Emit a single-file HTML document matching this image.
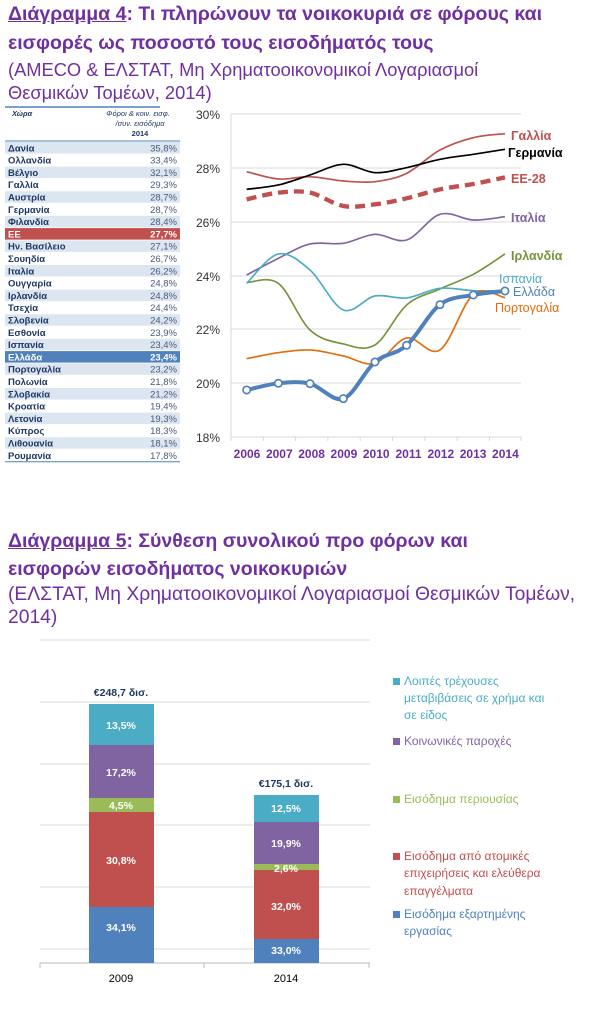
<!DOCTYPE html>
<html><head><meta charset="utf-8">
<style>
body{margin:0;width:602px;height:1018px;background:#fff;position:relative;overflow:hidden;font-family:"Liberation Sans","DejaVu Sans",sans-serif}
.t{position:absolute;left:8px;color:#7030a0;white-space:nowrap}
.b{font-weight:bold;font-size:19.5px}
.n{font-size:18px}
.u{text-decoration:underline}
</style></head><body>
<div class="t b" style="top:3px"><span class="u">Διάγραμμα 4</span>: Τι πληρώνουν τα νοικοκυριά σε φόρους και</div>
<div class="t b" style="top:32px">εισφορές ως ποσοστό τους εισοδήματός τους</div>
<div class="t n" style="top:59px;font-size:18.3px">(AMECO &amp; ΕΛΣΤΑΤ, Μη Χρηματοοικονομικοί Λογαριασμοί</div>
<div class="t n" style="top:82px;font-size:18.3px">Θεσμικών Τομέων, 2014)</div>

<div class="t b" style="top:530px"><span class="u">Διάγραμμα 5</span>: Σύνθεση συνολικού προ φόρων και</div>
<div class="t b" style="top:558px">εισφορών εισοδήματος νοικοκυριών</div>
<div class="t n" style="top:584px;font-size:19.3px">(ΕΛΣΤΑΤ, Μη Χρηματοοικονομικοί Λογαριασμοί Θεσμικών Τομέων,</div>
<div class="t n" style="top:607px;font-size:19.3px">2014)</div>

<svg width="602" height="1018" style="position:absolute;left:0;top:0" font-family="Liberation Sans, sans-serif">
<line x1="5" y1="107" x2="160" y2="107" stroke="#4f81bd" stroke-width="1.5"/>
<g font-size="7.5" fill="#1f3864" font-style="italic">
<text x="12" y="116" font-weight="bold">Χώρα</text>
<text x="138" y="116" text-anchor="middle">Φόροι &amp; κοιν. εισφ.</text>
<text x="140" y="126" text-anchor="middle">/συν. εισόδημα</text>
<text x="140" y="136" text-anchor="middle" font-style="normal" font-weight="bold">2014</text>
</g>
<line x1="5" y1="141" x2="180" y2="141" stroke="#4f81bd" stroke-width="1"/>
<g id="tbl" font-size="9.5"></g>
<g stroke="#d9d9d9" stroke-width="1">
<line x1="231" y1="114" x2="521" y2="114"/><line x1="231" y1="168" x2="521" y2="168"/><line x1="231" y1="222" x2="521" y2="222"/><line x1="231" y1="276" x2="521" y2="276"/><line x1="231" y1="329" x2="521" y2="329"/><line x1="231" y1="383" x2="521" y2="383"/><line x1="231" y1="437" x2="521" y2="437"/>
<line x1="231" y1="114" x2="231" y2="437"/>
</g>
<g id="ticks" stroke="#d9d9d9"></g>
<g font-size="12" fill="#333" text-anchor="end">
<text x="220" y="119">30%</text><text x="220" y="173">28%</text><text x="220" y="227">26%</text><text x="220" y="281">24%</text><text x="220" y="334">22%</text><text x="220" y="388">20%</text><text x="220" y="442">18%</text>
</g>
<g id="years" font-size="12" font-weight="bold" fill="#7030a0" text-anchor="middle"></g>
<g transform="translate(210,100) scale(0.3333)" fill="none" id="lines"></g>
<g font-size="12.5" font-weight="bold">
<text x="511" y="140" fill="#c0504d">Γαλλία</text>
<text x="508" y="157" fill="#000">Γερμανία</text>
<text x="511" y="183" fill="#c0504d">ΕΕ-28</text>
<text x="511" y="222" fill="#8064a2">Ιταλία</text>
<text x="511" y="260" fill="#77933c">Ιρλανδία</text>
<text x="499" y="283" fill="#4bacc6" font-weight="normal">Ισπανία</text>
<text x="513" y="296" fill="#4f81bd" font-weight="normal">Ελλάδα</text>
<text x="495" y="312" fill="#e46c0a" font-weight="normal">Πορτογαλία</text>
</g>
<g stroke="#d9d9d9" stroke-width="1">
<line x1="40" y1="640" x2="370" y2="640"/>
<line x1="40" y1="702" x2="370" y2="702"/><line x1="40" y1="764" x2="370" y2="764"/><line x1="40" y1="825" x2="370" y2="825"/><line x1="40" y1="887" x2="370" y2="887"/><line x1="40" y1="949" x2="370" y2="949"/>
<line x1="40" y1="963" x2="370" y2="963" stroke="#bbb"/>
<line x1="40" y1="963" x2="40" y2="968" stroke="#bbb"/><line x1="204" y1="963" x2="204" y2="968" stroke="#bbb"/><line x1="369" y1="963" x2="369" y2="968" stroke="#bbb"/>
</g>
<rect x="89" y="704" width="65" height="41" fill="#4bacc6"/>
<rect x="89" y="745" width="65" height="53" fill="#8064a2"/>
<rect x="89" y="798" width="65" height="14" fill="#9bbb59"/>
<rect x="89" y="812" width="65" height="95" fill="#c0504d"/>
<rect x="89" y="907" width="65" height="56" fill="#4f81bd"/>
<rect x="254" y="795" width="65" height="27" fill="#4bacc6"/>
<rect x="254" y="822" width="65" height="42" fill="#8064a2"/>
<rect x="254" y="864" width="65" height="6" fill="#9bbb59"/>
<rect x="254" y="870" width="65" height="69" fill="#c0504d"/>
<rect x="254" y="939" width="65" height="24" fill="#4f81bd"/>
<g font-size="10.5" font-weight="bold" fill="#fff" text-anchor="middle">
<text x="121" y="729">13,5%</text><text x="121" y="776">17,2%</text><text x="121" y="809">4,5%</text><text x="121" y="864">30,8%</text><text x="121" y="931">34,1%</text>
<text x="286" y="812">12,5%</text><text x="286" y="847">19,9%</text><text x="286" y="872">2,6%</text><text x="286" y="910">32,0%</text><text x="286" y="954">33,0%</text>
</g>
<g font-size="10.5" font-weight="bold" fill="#1f3864" text-anchor="middle"><text x="121" y="696">€248,7 δισ.</text><text x="286" y="787">€175,1 δισ.</text></g>
<g font-size="11" fill="#000" text-anchor="middle"><text x="121" y="982">2009</text><text x="286" y="982">2014</text></g>
<g font-size="12">
<rect x="393" y="678" width="7" height="7" fill="#4bacc6"/>
<text fill="#4bacc6"><tspan x="404" y="685">Λοιπές τρέχουσες</tspan><tspan x="404" y="702">μεταβιβάσεις σε χρήμα και</tspan><tspan x="404" y="719">σε είδος</tspan></text>
<rect x="393" y="738" width="7" height="7" fill="#8064a2"/>
<text x="404" y="745" fill="#8064a2">Κοινωνικές παροχές</text>
<rect x="393" y="796" width="7" height="7" fill="#9bbb59"/>
<text x="404" y="803" fill="#9bbb59">Εισόδημα περιουσίας</text>
<rect x="393" y="853" width="7" height="7" fill="#c0504d"/>
<text fill="#c0504d"><tspan x="404" y="860">Εισόδημα από ατομικές</tspan><tspan x="404" y="877">επιχειρήσεις και ελεύθερα</tspan><tspan x="404" y="895">επαγγέλματα</tspan></text>
<rect x="393" y="911" width="7" height="7" fill="#4f81bd"/>
<text fill="#4f81bd"><tspan x="404" y="918">Εισόδημα εξαρτημένης</tspan><tspan x="404" y="935">εργασίας</tspan></text>
</g>
</svg>
<script>
var ns="http://www.w3.org/2000/svg";
function el(p,t,a,txt){var e=document.createElementNS(ns,t);for(var k in a)e.setAttribute(k,a[k]);if(txt)e.textContent=txt;p.appendChild(e);return e;}
var rows=[["Δανία","35,8%"],["Ολλανδία","33,4%"],["Βέλγιο","32,1%"],["Γαλλία","29,3%"],["Αυστρία","28,7%"],["Γερμανία","28,7%"],["Φιλανδία","28,4%"],["ΕΕ","27,7%"],["Ην. Βασίλειο","27,1%"],["Σουηδία","26,7%"],["Ιταλία","26,2%"],["Ουγγαρία","24,8%"],["Ιρλανδία","24,8%"],["Τσεχία","24,4%"],["Σλοβενία","24,2%"],["Εσθονία","23,9%"],["Ισπανία","23,4%"],["Ελλάδα","23,4%"],["Πορτογαλία","23,2%"],["Πολωνία","21,8%"],["Σλοβακία","21,2%"],["Κροατία","19,4%"],["Λετονία","19,3%"],["Κύπρος","18,3%"],["Λιθουανία","18,1%"],["Ρουμανία","17,8%"]];
var tb=document.getElementById("tbl");var y0=142,h=12.3;
rows.forEach(function(r,i){var y=y0+i*h;var bg=i%2==0?"#dce6f1":"#fff",fc="#1f3864",nc="#4a5a7a";
if(r[0]=="ΕΕ"){bg="#c0504d";fc=nc="#fff";}if(r[0]=="Ελλάδα"){bg="#4f81bd";fc=nc="#fff";}
el(tb,"rect",{x:5,y:y,width:175,height:h-0.8,fill:bg});
el(tb,"text",{x:8,y:y+9.3,fill:fc,"font-weight":"bold"},r[0]);
el(tb,"text",{x:177,y:y+9.3,fill:nc,"text-anchor":"end","font-weight":(fc=="#fff"?"bold":"normal")},r[1]);});
el(tb,"line",{x1:5,y1:y0+26*h,x2:180,y2:y0+26*h,stroke:"#4f81bd"});
var yr=document.getElementById("years"),tk=document.getElementById("ticks");
for(var i=0;i<9;i++){el(yr,"text",{x:247+i*32.3,y:458},String(2006+i));el(tk,"line",{x1:231+i*32.3,y1:437,x2:231+i*32.3,y2:441});}
el(tk,"line",{x1:521,y1:437,x2:521,y2:441});
function path(pts){var d="M"+pts[0][0]+","+pts[0][1];for(var i=0;i<pts.length-1;i++){var p0=pts[i-1]||pts[i],p1=pts[i],p2=pts[i+1],p3=pts[i+2]||p2;
d+=" C"+(p1[0]+(p2[0]-p0[0])/6)+","+(p1[1]+(p2[1]-p0[1])/6)+" "+(p2[0]-(p3[0]-p1[0])/6)+","+(p2[1]-(p3[1]-p1[1])/6)+" "+p2[0]+","+p2[1];}return d;}
var X=[110,205,300,400,495,590,690,790,885];
function S(ys){return ys.map(function(y,i){return [X[i],y];});}
var L=document.getElementById("lines");
var series=[
[[215,237,230,243,245,220,150,113,101],"#c0504d",5],
[[268,255,225,193,218,203,178,163,148],"#000",5],
[[298,278,278,318,313,295,268,252,232],"#c0504d",13,"30,18"],
[[525,475,432,430,403,420,343,360,350],"#8064a2",5],
[[548,550,690,732,735,615,567,523,462],"#77933c",5],
[[550,462,510,630,588,594,565,572,572],"#4bacc6",5],
[[776,758,750,768,790,714,750,583,593],"#e46c0a",5],
[[870,850,851,896,786,736,614,585,573],"#4f81bd",12]];
series.forEach(function(s){var a={d:path(S(s[0])),stroke:s[1],"stroke-width":s[2]};if(s[3])a["stroke-dasharray"]=s[3];el(L,"path",a);});
[870,850,851,896,786,736,614,585,573].forEach(function(y,i){el(L,"circle",{cx:X[i],cy:y,r:11,fill:"#fff",stroke:"#4f81bd","stroke-width":5});});
</script>
</body></html>
